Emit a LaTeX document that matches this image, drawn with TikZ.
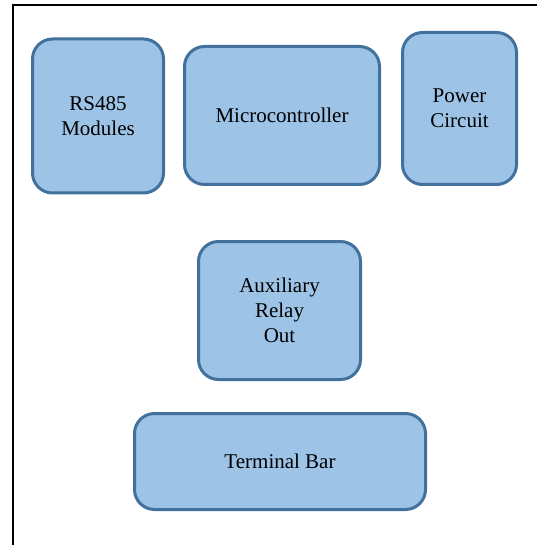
\documentclass[tikz,border=0pt]{standalone}
\usepackage{fontspec}
\setmainfont{Liberation Serif}
\newfontfamily\blockfont{Liberation Serif}
% centred block caption, set 2pt low without changing its box
\newcommand\blocktext[1]{\raisebox{-2pt}[\height][\depth]{\setlength\tabcolsep{0pt}\begin{tabular}{c}#1\end{tabular}}}
\begin{document}
\begin{tikzpicture}[x=1pt,y=-1pt,
  block/.style={draw=blockline, fill=blockfill, line width=3pt,
    rounded corners=20pt, align=center, inner sep=0pt,
    font=\blockfont\fontsize{21}{25}\selectfont}]
\definecolor{blockline}{HTML}{41719C}
\definecolor{blockfill}{HTML}{9DC3E6}
\useasboundingbox (0,0) rectangle (537,545);
% open frame: top and left edges only
\draw[line width=2pt] (13,545) -- (13,5) -- (537,5);
\node[block, minimum width=131pt, minimum height=154pt] (rs485) at (98,116) {\blocktext{RS485\\Modules}};
\node[block, minimum width=195pt, minimum height=138pt] (mcu) at (282,115.5) {\blocktext{Microcontroller}};
\node[block, minimum width=114pt, minimum height=152pt] (power) at (459.5,108.5) {\blocktext{Power\\Circuit}};
\node[block, minimum width=162pt, minimum height=138pt] (relay) at (279.5,310.5) {\blocktext{Auxiliary\\Relay\\ Out}};
\node[block, minimum width=291pt, minimum height=96pt] (terminal) at (280,461.5) {\blocktext{Terminal Bar}};
\end{tikzpicture}
\end{document}
